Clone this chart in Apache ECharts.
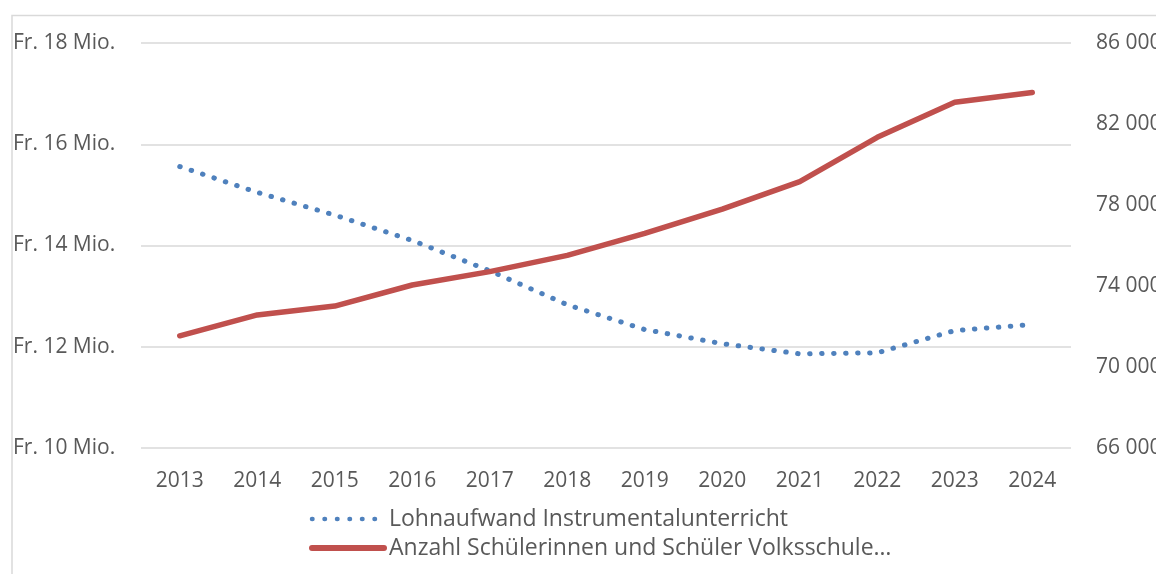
<!DOCTYPE html>
<html>
<head>
<meta charset="utf-8">
<script src="https://cdn.jsdelivr.net/npm/echarts@6/dist/echarts.min.js"></script>
<style>
html,body{margin:0;padding:0;background:#fff;}
#chart{width:1156px;height:574px;}
</style>
</head>
<body>
<div id="chart"></div>
<script>
const years = ['2013','2014','2015','2016','2017','2018','2019','2020','2021','2022','2023','2024'];
const lohnaufwandMio = [15.56, 15.05, 14.60, 14.10, 13.50, 12.83, 12.34, 12.06, 11.86, 11.88, 12.32, 12.44];
const schuelerAnzahl = [71540, 72570, 73010, 74050, 74710, 75510, 76600, 77800, 79150, 81340, 83070, 83560];
const seriesNames = ['Lohnaufwand Instrumentalunterricht', 'Anzahl Schülerinnen und Schüler Volksschule…'];

const FONT = '"Open Sans", "Noto Sans", sans-serif';
const TXT = '#595959';
const GRID = '#D9D9D9';
const BLUE = '#4F81BD';
const RED = '#C0504D';
const dotted = {color: BLUE, width: 5, type: [0.5, 11.5], cap: 'round'};
const solid = {color: RED, width: 5.5, type: 'solid', cap: 'round', join: 'round'};

const chart = echarts.init(document.getElementById('chart'), null, {renderer:'canvas'});
chart.setOption({
  animation: false,
  backgroundColor: '#fff',
  textStyle: {fontFamily: FONT},
  graphic: [{
    type: 'rect', left: 9.5, top: 13, z: -1,
    shape: {width: 2000, height: 2000},
    style: {fill: 'none', stroke: GRID, lineWidth: 1.5}
  }],
  grid: {left: 141, right: 85, top: 43, bottom: 126, outerBoundsMode: 'none', containLabel: false},
  legend: {
    orient: 'vertical', left: 309, top: 506, padding: 0,
    itemWidth: 72, itemHeight: 14, itemGap: 3,
    itemStyle: {opacity: 0},
    textStyle: {fontFamily: FONT, fontSize: 23, color: TXT, lineHeight: 26},
    data: [
      {name: seriesNames[0], lineStyle: {color: BLUE, width: 4.5, type: [0.5, 12], cap: 'round'}},
      {name: seriesNames[1], lineStyle: {color: RED, width: 6, type: 'solid', cap: 'round'}}
    ]
  },
  xAxis: {
    type: 'category', data: years, boundaryGap: true,
    axisLine: {show: false}, axisTick: {show: false},
    axisLabel: {fontFamily: FONT, fontSize: 21, color: TXT, margin: 23}
  },
  yAxis: [{
    type: 'value', min: 10, max: 18, interval: 2,
    axisLine: {show: false}, axisTick: {show: false},
    splitLine: {lineStyle: {color: GRID, width: 1.5}},
    axisLabel: {fontFamily: FONT, fontSize: 21, color: TXT, align: 'left', margin: 128,
      formatter: v => 'Fr. ' + v + ' Mio.'}
  }, {
    type: 'value', min: 66000, max: 86000, interval: 4000, position: 'right',
    axisLine: {show: false}, axisTick: {show: false}, splitLine: {show: false},
    axisLabel: {fontFamily: FONT, fontSize: 21, color: TXT, align: 'left', margin: 25,
      formatter: v => String(v).replace(/\B(?=(\d{3})+(?!\d))/g, ' ')}
  }],
  series: [{
    name: seriesNames[0], type: 'line', yAxisIndex: 0, data: lohnaufwandMio,
    symbol: 'none', color: BLUE, lineStyle: dotted
  }, {
    name: seriesNames[1], type: 'line', yAxisIndex: 1, data: schuelerAnzahl,
    symbol: 'none', color: RED, lineStyle: solid
  }]
});
</script>
</body>
</html>
